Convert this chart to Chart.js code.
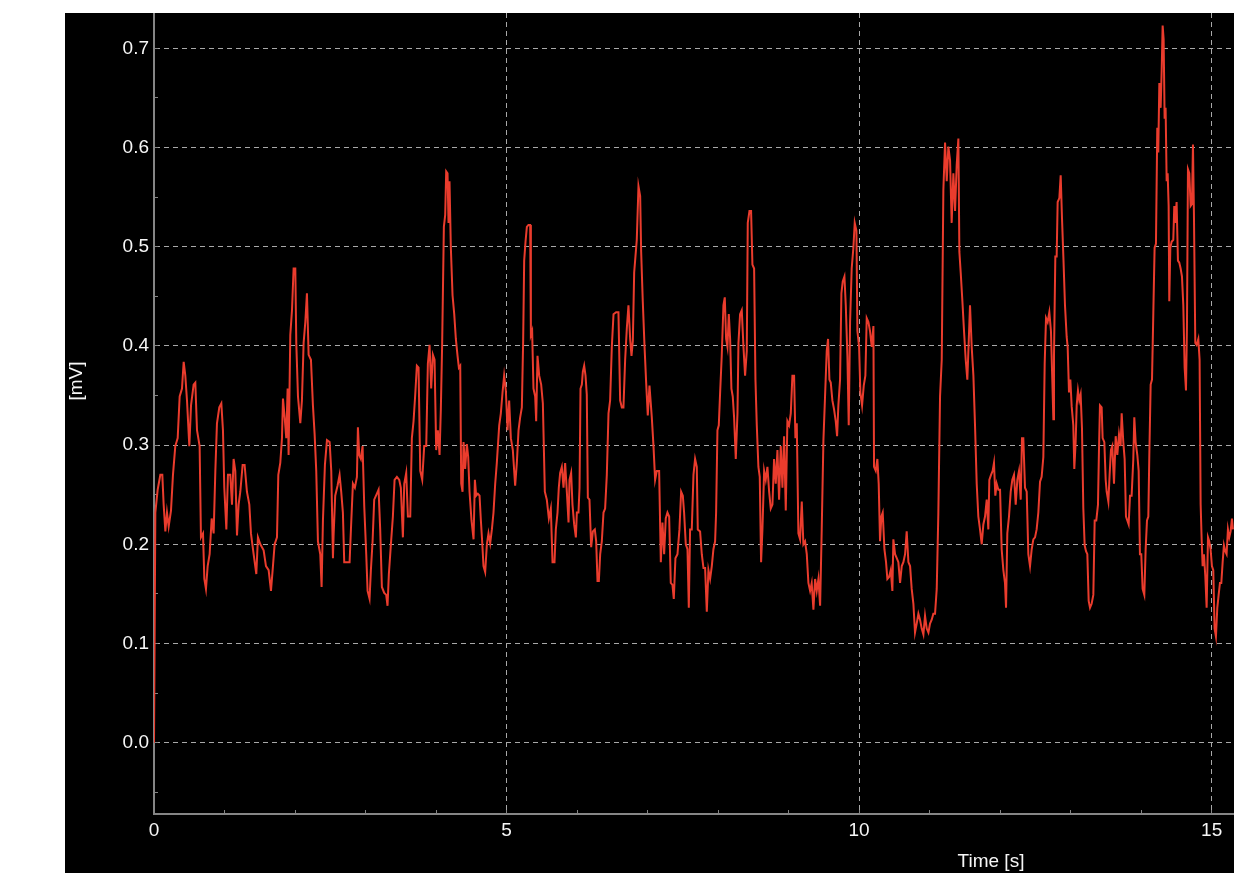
<!DOCTYPE html>
<html>
<head>
<meta charset="utf-8">
<title>Signal [mV]</title>
<script src="https://cdn.jsdelivr.net/npm/chart.js@4.4.1/dist/chart.umd.min.js"></script>
<style>
  html, body { margin: 0; padding: 0; background: #fff; }
  #wrap { position: absolute; left: 65px; top: 13px; width: 1169px; height: 860px; background: #000; }
</style>
</head>
<body>
<div id="wrap"><canvas id="chart" width="1169" height="860"></canvas></div>
<script>
"use strict";

// axis ranges and ticks
const X_MIN = 0, X_MAX = 15.317;
const Y_MIN = -0.0719, Y_MAX = 0.7356;
const X_TICKS = [0, 1, 2, 3, 4, 5, 6, 7, 8, 9, 10, 11, 12, 13, 14, 15];
const X_LABELED = [0, 5, 10, 15];
const Y_TICKS = [-0.05, 0, 0.05, 0.1, 0.15, 0.2, 0.25, 0.3, 0.35, 0.4, 0.45, 0.5, 0.55, 0.6, 0.65, 0.7];
const Y_LABELED = [0, 0.1, 0.2, 0.3, 0.4, 0.5, 0.6, 0.7];
const X_TITLE = "Time [s]";
const Y_TITLE = "[mV]";

// trace, [time s, mV] in pieces
const SEG_A = [[0,0],[0.019,0.232],[0.052,0.255],[0.090,0.270],[0.118,0.270],[0.137,0.240],[0.161,0.213],[0.184,0.232],[0.208,0.218],[0.241,0.234],[0.269,0.270],[0.302,0.299],[0.336,0.307],[0.364,0.349],[0.397,0.357],[0.421,0.384],[0.444,0.370],[0.468,0.345],[0.501,0.299],[0.525,0.340],[0.562,0.361],[0.586,0.363],[0.610,0.315],[0.647,0.299],[0.666,0.207],[0.695,0.211],[0.714,0.165],[0.737,0.155],[0.761,0.178],[0.789,0.190],[0.818,0.226],[0.846,0.211],[0.870,0.274],[0.893,0.322],[0.926,0.338],[0.955,0.342],[0.978,0.315],[0.997,0.257],[1.026,0.215],[1.049,0.270],[1.082,0.270],[1.106,0.240],[1.129,0.286],[1.153,0.274],[1.177,0.209],[1.200,0.240],[1.224,0.253],[1.257,0.280],[1.285,0.280],[1.318,0.253],[1.352,0.240],[1.375,0.211],[1.413,0.190],[1.451,0.170],[1.474,0.207],[1.508,0.200],[1.555,0.194],[1.588,0.178],[1.626,0.174],[1.659,0.153],[1.687,0.178],[1.711,0.200],[1.744,0.207],[1.763,0.270],[1.791,0.282],[1.815,0.307],[1.829,0.347],[1.853,0.328],[1.876,0.307],[1.895,0.357],[1.909,0.290],[1.933,0.411],[1.957,0.436],[1.980,0.478],[2.004,0.478],[2.018,0.403],[2.042,0.349],[2.075,0.322],[2.098,0.345],[2.122,0.403],[2.146,0.424],[2.169,0.453],[2.193,0.391],[2.226,0.386],[2.254,0.340],[2.278,0.311],[2.301,0.274],[2.325,0.203],[2.358,0.190],[2.377,0.157],[2.396,0.224],[2.424,0.280],[2.453,0.305],[2.491,0.303],[2.514,0.274],[2.538,0.186]];
const SEG_B = [[2.547,0.209],[2.570,0.249],[2.603,0.259],[2.632,0.270],[2.655,0.253],[2.679,0.232],[2.698,0.182],[2.736,0.182],[2.774,0.182],[2.793,0.215],[2.821,0.261],[2.849,0.257],[2.878,0.268],[2.892,0.318],[2.911,0.290],[2.934,0.286],[2.958,0.299],[2.982,0.238],[3.010,0.190],[3.029,0.153],[3.057,0.145],[3.076,0.174],[3.100,0.203],[3.123,0.245],[3.161,0.251],[3.185,0.255],[3.208,0.215],[3.232,0.157],[3.265,0.151],[3.293,0.149],[3.312,0.138],[3.331,0.170],[3.360,0.200],[3.388,0.228],[3.412,0.265],[3.445,0.268],[3.478,0.265],[3.501,0.257],[3.530,0.207],[3.549,0.261],[3.577,0.272],[3.601,0.228],[3.634,0.228],[3.657,0.307],[3.681,0.324],[3.705,0.351],[3.728,0.380],[3.752,0.378],[3.776,0.274],[3.804,0.265],[3.832,0.299],[3.861,0.299],[3.884,0.382],[3.908,0.401],[3.931,0.357],[3.955,0.391],[3.979,0.386],[4.002,0.295],[4.026,0.315],[4.050,0.290],[4.068,0.336],[4.087,0.403],[4.111,0.520],[4.130,0.532],[4.144,0.576],[4.163,0.574],[4.177,0.524],[4.191,0.566],[4.210,0.499],[4.234,0.451],[4.258,0.432],[4.281,0.407],[4.305,0.390],[4.324,0.378],[4.343,0.380],[4.357,0.261],[4.376,0.253],[4.390,0.303],[4.413,0.276],[4.437,0.301],[4.456,0.288],[4.475,0.253],[4.503,0.224],[4.532,0.205],[4.551,0.265],[4.569,0.249],[4.593,0.251],[4.617,0.249],[4.636,0.224],[4.654,0.203],[4.673,0.178],[4.697,0.172],[4.721,0.200],[4.744,0.211],[4.768,0.201],[4.792,0.215],[4.815,0.232],[4.839,0.261],[4.862,0.282],[4.896,0.320],[4.919,0.332],[4.943,0.353],[4.966,0.370],[4.990,0.355],[5.014,0.315],[5.037,0.345],[5.061,0.307],[5.089,0.295]];
const SEG_C = [[5.122,0.259],[5.146,0.282],[5.170,0.315],[5.193,0.328],[5.217,0.338],[5.236,0.407],[5.250,0.486],[5.269,0.505],[5.288,0.520],[5.311,0.522],[5.335,0.522],[5.345,0.411],[5.363,0.415],[5.382,0.357],[5.406,0.349],[5.420,0.324],[5.439,0.390],[5.463,0.370],[5.491,0.361],[5.515,0.342],[5.543,0.253],[5.571,0.245],[5.600,0.226],[5.628,0.236],[5.652,0.182],[5.680,0.182],[5.699,0.215],[5.723,0.232],[5.741,0.257],[5.760,0.272],[5.784,0.278],[5.808,0.257],[5.831,0.282],[5.855,0.253],[5.879,0.222],[5.893,0.265],[5.916,0.272],[5.935,0.240],[5.959,0.220],[5.983,0.207],[5.997,0.232],[6.020,0.232],[6.035,0.257],[6.049,0.357],[6.068,0.361],[6.082,0.374],[6.101,0.380],[6.120,0.370],[6.138,0.351],[6.153,0.247],[6.176,0.245],[6.200,0.197],[6.224,0.213],[6.252,0.215],[6.271,0.203],[6.290,0.163],[6.309,0.163],[6.328,0.190],[6.351,0.203],[6.375,0.232],[6.398,0.236],[6.422,0.270],[6.446,0.332],[6.469,0.345],[6.493,0.399],[6.517,0.432],[6.554,0.434],[6.587,0.434],[6.611,0.345],[6.635,0.338],[6.658,0.338],[6.682,0.386],[6.706,0.418],[6.729,0.441],[6.753,0.407],[6.772,0.390],[6.791,0.405],[6.810,0.474],[6.828,0.490],[6.847,0.507],[6.871,0.561],[6.895,0.551],[6.909,0.495],[6.932,0.445],[6.956,0.401],[6.980,0.363],[7.003,0.330],[7.027,0.360],[7.060,0.328],[7.084,0.299],[7.107,0.265],[7.131,0.274],[7.164,0.274],[7.188,0.182],[7.211,0.222],[7.235,0.190],[7.258,0.226],[7.282,0.232],[7.306,0.228],[7.329,0.161],[7.353,0.159],[7.372,0.145],[7.395,0.186],[7.424,0.190],[7.452,0.215],[7.476,0.253],[7.500,0.249],[7.518,0.232],[7.542,0.200],[7.566,0.195],[7.585,0.136],[7.603,0.215],[7.627,0.215],[7.651,0.270]];
const SEG_D = [[7.674,0.286],[7.698,0.278],[7.712,0.215],[7.745,0.213],[7.769,0.190],[7.793,0.176],[7.816,0.176],[7.840,0.132],[7.863,0.174],[7.887,0.165],[7.911,0.178],[7.934,0.195],[7.958,0.203],[7.972,0.232],[7.991,0.315],[8.010,0.320],[8.029,0.353],[8.052,0.390],[8.076,0.441],[8.095,0.449],[8.114,0.407],[8.133,0.399],[8.152,0.432],[8.171,0.407],[8.189,0.357],[8.208,0.349],[8.227,0.328],[8.251,0.286],[8.275,0.332],[8.289,0.403],[8.312,0.432],[8.336,0.436],[8.360,0.399],[8.383,0.370],[8.407,0.395],[8.421,0.524],[8.445,0.536],[8.468,0.536],[8.487,0.482],[8.511,0.478],[8.530,0.366],[8.549,0.320],[8.572,0.278],[8.591,0.268],[8.610,0.182],[8.629,0.215],[8.653,0.274],[8.676,0.265],[8.700,0.278],[8.724,0.253],[8.747,0.236],[8.771,0.240],[8.794,0.286],[8.818,0.261],[8.842,0.295],[8.865,0.245],[8.889,0.299],[8.913,0.257],[8.936,0.309],[8.960,0.234],[8.983,0.324],[9.007,0.320],[9.031,0.332],[9.054,0.370],[9.078,0.370],[9.097,0.307],[9.116,0.322],[9.139,0.211],[9.163,0.205],[9.187,0.243],[9.210,0.200],[9.234,0.203],[9.258,0.190],[9.281,0.161],[9.305,0.153],[9.328,0.161],[9.352,0.134],[9.376,0.165],[9.399,0.153],[9.423,0.165],[9.447,0.138],[9.470,0.215],[9.494,0.305],[9.517,0.349],[9.541,0.395],[9.560,0.407],[9.579,0.366],[9.598,0.363],[9.621,0.345],[9.645,0.336],[9.669,0.324],[9.688,0.309],[9.706,0.340],[9.730,0.366],[9.749,0.453],[9.768,0.465],[9.792,0.470],[9.811,0.441],[9.834,0.390],[9.853,0.320],[9.872,0.424],[9.895,0.478],[9.919,0.499],[9.938,0.524],[9.962,0.516],[9.976,0.415],[10.000,0.399],[10.018,0.353],[10.042,0.340],[10.066,0.360],[10.089,0.370],[10.108,0.428],[10.132,0.424],[10.155,0.415],[10.179,0.399],[10.203,0.420]];
const SEG_E = [[10.212,0.278],[10.236,0.274],[10.259,0.286],[10.278,0.261],[10.297,0.203],[10.316,0.228],[10.335,0.232],[10.359,0.195],[10.382,0.182],[10.401,0.165],[10.425,0.167],[10.449,0.174],[10.472,0.153],[10.486,0.205],[10.510,0.190],[10.534,0.186],[10.557,0.182],[10.581,0.161],[10.605,0.178],[10.628,0.182],[10.652,0.190],[10.675,0.213],[10.699,0.182],[10.723,0.178],[10.746,0.155],[10.770,0.140],[10.793,0.111],[10.817,0.120],[10.841,0.130],[10.864,0.124],[10.888,0.115],[10.912,0.109],[10.935,0.128],[10.959,0.115],[10.983,0.111],[11.006,0.120],[11.030,0.124],[11.053,0.130],[11.077,0.130],[11.101,0.155],[11.124,0.232],[11.148,0.349],[11.172,0.386],[11.195,0.557],[11.219,0.605],[11.243,0.566],[11.266,0.601],[11.290,0.587],[11.313,0.524],[11.337,0.574],[11.361,0.536],[11.384,0.582],[11.408,0.609],[11.422,0.495],[11.441,0.474],[11.465,0.445],[11.488,0.415],[11.512,0.386],[11.535,0.366],[11.554,0.403],[11.573,0.441],[11.597,0.399],[11.621,0.370],[11.644,0.320],[11.668,0.261],[11.691,0.228],[11.715,0.215],[11.739,0.200],[11.762,0.220],[11.786,0.228],[11.810,0.245],[11.833,0.215],[11.847,0.265],[11.871,0.270],[11.894,0.274],[11.913,0.282],[11.932,0.249],[11.951,0.261],[11.975,0.255],[11.999,0.255],[12.022,0.195],[12.046,0.174],[12.069,0.161],[12.084,0.136],[12.102,0.211],[12.126,0.228],[12.150,0.253],[12.173,0.265],[12.197,0.270],[12.221,0.240],[12.244,0.265],[12.268,0.274],[12.292,0.245],[12.310,0.307],[12.329,0.307],[12.353,0.257],[12.377,0.253],[12.400,0.190],[12.424,0.178],[12.448,0.195],[12.471,0.205],[12.495,0.207],[12.518,0.215],[12.542,0.232],[12.566,0.263],[12.589,0.268],[12.613,0.288],[12.632,0.382],[12.651,0.428],[12.674,0.424],[12.698,0.434],[12.721,0.415],[12.740,0.366],[12.755,0.326]];
const SEG_F = [[12.764,0.390],[12.783,0.490],[12.802,0.490],[12.816,0.545],[12.840,0.549],[12.859,0.572],[12.878,0.528],[12.897,0.490],[12.920,0.441],[12.944,0.409],[12.958,0.399],[12.977,0.353],[12.996,0.366],[13.015,0.339],[13.038,0.320],[13.052,0.276],[13.071,0.303],[13.086,0.340],[13.104,0.355],[13.123,0.345],[13.142,0.351],[13.161,0.317],[13.180,0.236],[13.199,0.199],[13.218,0.193],[13.237,0.190],[13.256,0.143],[13.275,0.136],[13.298,0.140],[13.322,0.149],[13.341,0.224],[13.364,0.224],[13.388,0.240],[13.402,0.295],[13.416,0.340],[13.440,0.338],[13.454,0.307],[13.478,0.303],[13.497,0.265],[13.511,0.253],[13.535,0.243],[13.553,0.270],[13.572,0.295],[13.591,0.299],[13.615,0.261],[13.639,0.309],[13.662,0.290],[13.686,0.311],[13.709,0.299],[13.724,0.332],[13.747,0.303],[13.766,0.286],[13.785,0.228],[13.804,0.224],[13.823,0.220],[13.842,0.249],[13.865,0.249],[13.889,0.286],[13.903,0.328],[13.922,0.303],[13.946,0.290],[13.965,0.274],[13.983,0.190],[14.002,0.190],[14.021,0.155],[14.045,0.149],[14.064,0.195],[14.083,0.224],[14.102,0.228],[14.116,0.290],[14.135,0.361],[14.154,0.366],[14.173,0.434],[14.191,0.499],[14.210,0.503],[14.229,0.620],[14.243,0.595],[14.258,0.665],[14.277,0.640],[14.291,0.677],[14.305,0.723],[14.319,0.709],[14.333,0.629],[14.347,0.640],[14.362,0.566],[14.376,0.574],[14.390,0.541],[14.399,0.445],[14.414,0.499],[14.432,0.505],[14.456,0.507],[14.470,0.541],[14.484,0.524],[14.503,0.545],[14.522,0.486],[14.541,0.484],[14.560,0.478],[14.579,0.470],[14.598,0.441],[14.617,0.378],[14.636,0.355],[14.650,0.420],[14.664,0.578],[14.683,0.574],[14.702,0.541],[14.721,0.543],[14.735,0.603],[14.749,0.532],[14.768,0.403],[14.787,0.401],[14.811,0.407],[14.829,0.386],[14.844,0.240],[14.858,0.205],[14.872,0.178],[14.891,0.190],[14.910,0.168],[14.929,0.136],[14.948,0.207],[14.966,0.203],[14.985,0.195],[15.004,0.178],[15.023,0.174],[15.042,0.115],[15.061,0.107],[15.080,0.136],[15.099,0.149],[15.118,0.161],[15.137,0.161],[15.156,0.182],[15.174,0.199],[15.193,0.193],[15.212,0.190],[15.231,0.215],[15.250,0.207],[15.269,0.213],[15.288,0.226],[15.302,0.215]];

const TRACE_COLOR = "#ea3c2d";
const AXIS_GRAY = "#858585";
const GRID_GRAY = "#a8a8a8";
const TEXT_COLOR = "#f6f6f6";
const FONT_FAMILY = "'Liberation Sans', Arial, sans-serif";
const FONT_SIZE = 19;

function $(id) { return document.getElementById(id); }

function inList(list, v) { return list.some(m => Math.abs(m - v) < 1e-9); }

function noPadding(s) {
  s.paddingLeft = 0; s.paddingRight = 0; s.paddingTop = 0; s.paddingBottom = 0;
}

// axis titles sit off-centre in the original, so they are placed by hand
const axisTitles = {
  id: "axisTitles",
  afterDraw(chart) {
    const c = chart.ctx;
    c.save();
    c.fillStyle = TEXT_COLOR;
    c.font = `${FONT_SIZE}px ${FONT_FAMILY}`;
    c.textAlign = "center";
    c.textBaseline = "alphabetic";
    c.fillText(X_TITLE, 926, 854);
    c.translate(12, 368);
    c.rotate(-Math.PI / 2);
    c.textBaseline = "middle";
    c.fillText(Y_TITLE, 0, 0);
    c.restore();
  },
};

function start() {
  const trace = [...SEG_A, ...SEG_B, ...SEG_C, ...SEG_D, ...SEG_E, ...SEG_F]
    .map(([t, v]) => ({ x: t, y: v }));

  new Chart($("chart"), {
    type: "line",
    data: { datasets: [{
      data: trace, borderColor: TRACE_COLOR, borderWidth: 2,
      pointRadius: 0, tension: 0, fill: false,
    }]},
    options: {
      responsive: false, animation: false, devicePixelRatio: 1,
      layout: { padding: 0 },
      plugins: { legend: { display: false }, tooltip: { enabled: false } },
      scales: {
        x: {
          type: "linear", min: X_MIN, max: X_MAX,
          afterBuildTicks: s => { s.ticks = X_TICKS.map(v => ({ value: v })); },
          afterFit: s => { s.height = 59; noPadding(s); },
          ticks: {
            autoSkip: false, maxRotation: 0, padding: 9, color: TEXT_COLOR,
            font: { family: FONT_FAMILY, size: FONT_SIZE },
            callback: v => inList(X_LABELED, v) ? String(v) : "",
          },
          grid: {
            color: c => (c.tick && inList(X_LABELED, c.tick.value)) ? GRID_GRAY : "transparent",
            lineWidth: 1, drawTicks: true, tickLength: -4, tickColor: AXIS_GRAY, tickWidth: 1,
          },
          border: { display: true, color: AXIS_GRAY, width: 2, dash: [5, 4] },
        },
        y: {
          type: "linear", min: Y_MIN, max: Y_MAX,
          afterBuildTicks: s => { s.ticks = Y_TICKS.map(v => ({ value: v })); },
          afterFit: s => { s.width = 89; noPadding(s); },
          ticks: {
            autoSkip: false, padding: 9, color: TEXT_COLOR,
            font: { family: FONT_FAMILY, size: FONT_SIZE },
            callback: v => inList(Y_LABELED, v) ? v.toFixed(1) : "",
          },
          grid: {
            color: c => (c.tick && inList(Y_LABELED, c.tick.value)) ? GRID_GRAY : "transparent",
            lineWidth: 1, drawTicks: true, tickLength: -4, tickColor: AXIS_GRAY, tickWidth: 1,
          },
          border: { display: true, color: AXIS_GRAY, width: 2, dash: [5, 4] },
        },
      },
    },
    plugins: [axisTitles],
  });
}

document.addEventListener("DOMContentLoaded", start);
</script>
</body>
</html>
